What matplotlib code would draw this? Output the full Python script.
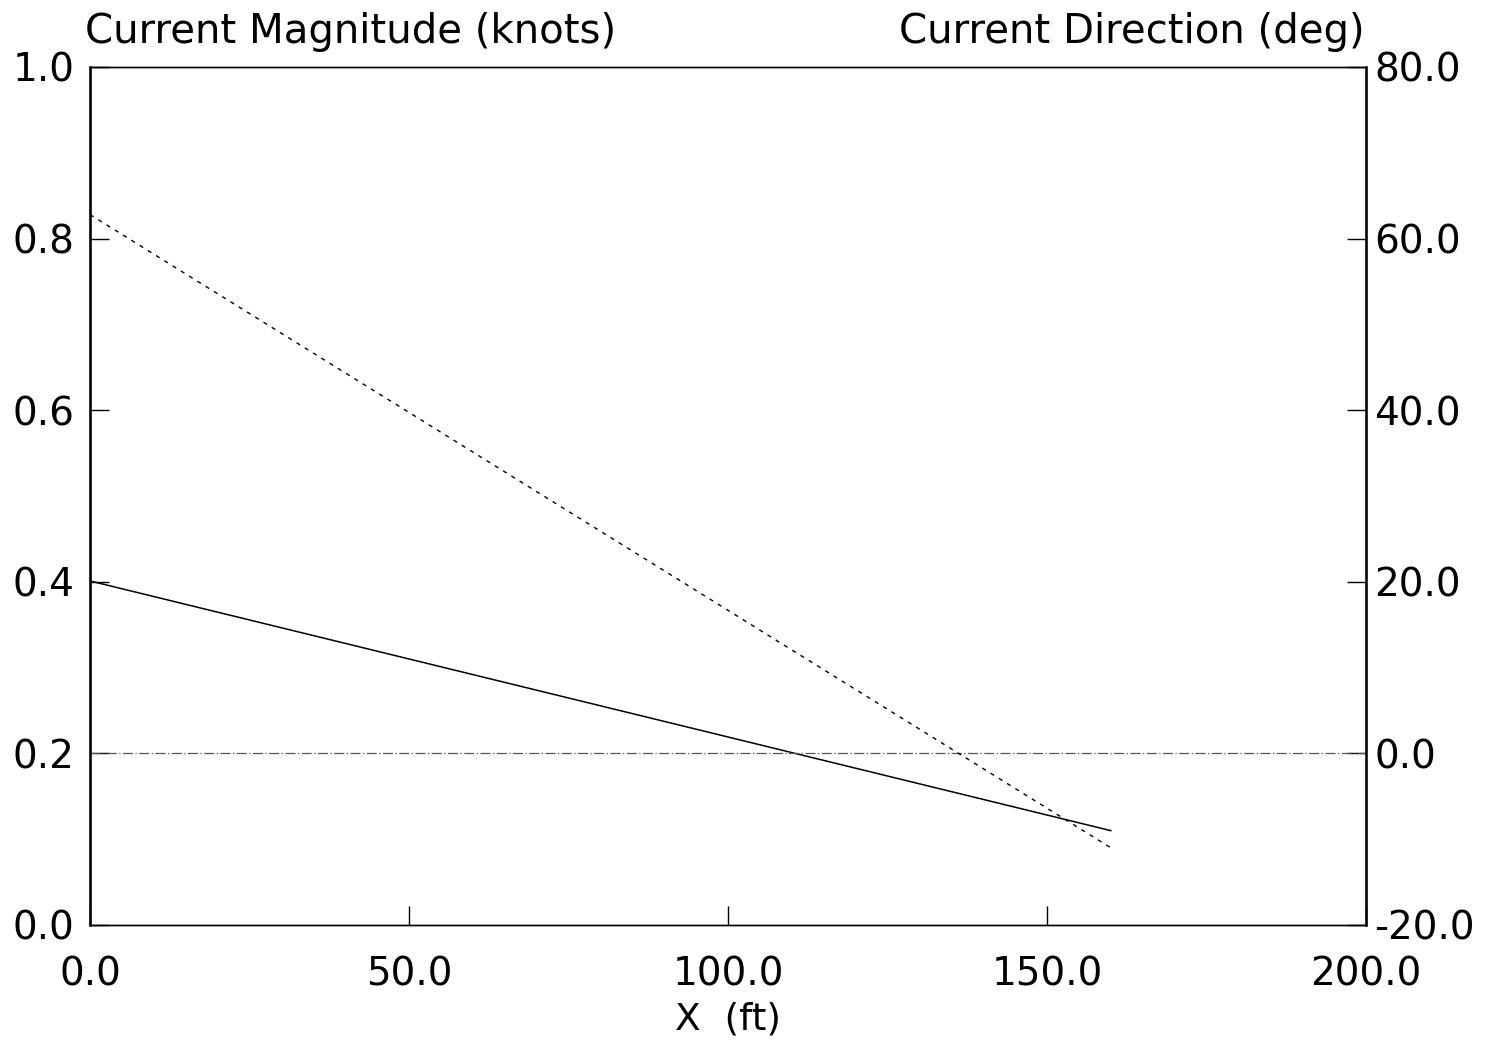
import matplotlib
matplotlib.use("Agg")
import matplotlib.pyplot as plt
import numpy as np

plt.rcParams['font.family'] = ['DejaVu Sans']

# Data
x_ft = [0.0, 160.0]
magnitude_knots = [0.401, 0.110]
direction_deg = [62.8, -11.0]
zero_dir = [0.0, 0.0]
zero_x = [0.0, 200.0]

x_ticks = [0, 50, 100, 150, 200]
left_ticks = [0.0, 0.2, 0.4, 0.6, 0.8, 1.0]
right_ticks = [-20, 0, 20, 40, 60, 80]

fig = plt.figure(figsize=(15.02, 10.40), dpi=100)
ax = fig.add_axes([90/1502, 1 - 925/1040, (1366-90)/1502, (925-67)/1040])
ax2 = ax.twinx()

ax.plot(x_ft, magnitude_knots, color='black', lw=1.1)
ax2.plot(zero_x, zero_dir, color='#555555', lw=0.9, ls=(0, (8, 2, 1, 2)))
ax2.plot(x_ft, direction_deg, color='black', lw=1.0, ls=(0, (3, 4)))

ax.set_xlim(0, 200)
ax.set_ylim(0, 1.0)
ax2.set_ylim(-20, 80)

ax.set_xticks(x_ticks)
ax.set_xticklabels([f"{v:.1f}" for v in x_ticks])
ax.set_yticks(left_ticks)
ax.set_yticklabels([f"{v:.1f}" for v in left_ticks])
ax2.set_yticks(right_ticks)
ax2.set_yticklabels([f"{v:.1f}" for v in right_ticks])

for a in (ax, ax2):
    a.tick_params(direction='in', length=14, width=1, labelsize=28, pad=10)
    for s in a.spines.values():
        s.set_linewidth(1.0)
ax.spines['left'].set_linewidth(1.8)
ax2.spines['right'].set_linewidth(1.8)
ax.tick_params(axis='x', pad=22)
ax.tick_params(axis='y', pad=11)
ax2.tick_params(axis='y', pad=6)

ax.set_xlabel("X  (ft)", fontsize=27, labelpad=6)
fig.text(85/1502, 1 - 43/1040, "Current Magnitude (knots)", fontsize=29,
         ha='left', va='baseline')
fig.text(1365/1502, 1 - 43/1040, "Current Direction (deg)", fontsize=29,
         ha='right', va='baseline')

fig.savefig("out.png", dpi=100)
